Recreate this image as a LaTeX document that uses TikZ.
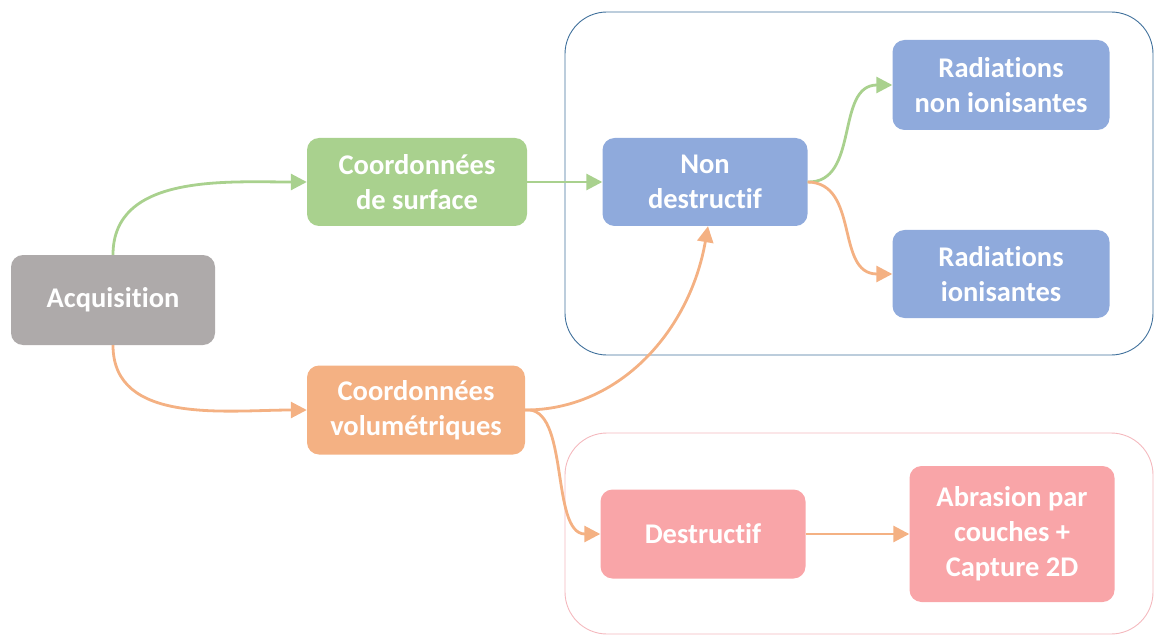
\documentclass[tikz,border=0pt]{standalone}
\usepackage{fontspec}
\setmainfont{Carlito}[Ligatures=NoCommon]
\usetikzlibrary{arrows.meta}
\definecolor{cgray}{HTML}{AEAAAA}
\definecolor{cgreen}{HTML}{A9D18E}
\definecolor{corange}{HTML}{F4B183}
\definecolor{cblue}{HTML}{8FAADC}
\definecolor{cpink}{HTML}{F9A5A8}
\definecolor{cframeblue}{HTML}{41719C}
\definecolor{cframepink}{HTML}{F4B9BE}
\tikzset{
  boxnode/.style={rounded corners=12pt, text=white, align=center,
    font=\fontsize{28.5}{35}\selectfont\bfseries, inner sep=0pt},
  conn/.style={line width=2.8pt, -{Triangle[length=16pt,width=16pt]}},
  frameA/.style={draw=cframeblue, line width=0.9pt, rounded corners=42pt},
  frameB/.style={draw=cframepink, line width=0.9pt, rounded corners=42pt},
}
\begin{document}
\begin{tikzpicture}[x=1pt,y=-1pt]
\useasboundingbox (0,0) rectangle (1155,636);
\draw[frameA] (565,12) rectangle (1153,355);
\draw[frameB] (565,433) rectangle (1153,634);

\node[boxnode, fill=cgray, minimum width=204pt, minimum height=90pt] (acq) at (113,300) {Acquisition};
\node[boxnode, fill=cgreen, minimum width=220pt, minimum height=88pt] (surf) at (417,182) {Coordonnées\\de surface};
\node[boxnode, fill=corange, minimum width=218pt, minimum height=89pt] (vol) at (416,410) {Coordonnées\\volumétriques};
\node[boxnode, fill=cblue, minimum width=205pt, minimum height=88pt] (nd) at (705,182) {Non\\destructif};
\node[boxnode, fill=cblue, minimum width=217pt, minimum height=90pt] (rni) at (1001,85) {Radiations\\non ionisantes};
\node[boxnode, fill=cblue, minimum width=217pt, minimum height=88pt] (ri) at (1001,274) {Radiations\\ionisantes};
\node[boxnode, fill=cpink, minimum width=205pt, minimum height=89pt] (des) at (703,534) {Destructif};
\node[boxnode, fill=cpink, minimum width=205pt, minimum height=136pt] (abr) at (1012,534) {Abrasion par\\couches +\\Capture 2D};

\draw[conn, cgreen] (acq.north) to[out=90,in=180] (surf.west);
\draw[conn, corange] (acq.south) to[out=-90,in=180] (vol.west);
\draw[conn, cgreen] (surf.east) -- (nd.west);
\draw[conn, corange] (vol.east) .. controls (620,410) and (690,330) .. ([xshift=3pt]nd.south);
\draw[conn, corange] (vol.east) .. controls (570,405) and (550,534) .. (des.west);
\draw[conn, corange] (des.east) -- (abr.west);
\draw[conn, cgreen] (nd.east) .. controls (860,183) and (835,85) .. (rni.west);
\draw[conn, corange] (nd.east) .. controls (860,183) and (835,274) .. (ri.west);
\end{tikzpicture}
\end{document}
